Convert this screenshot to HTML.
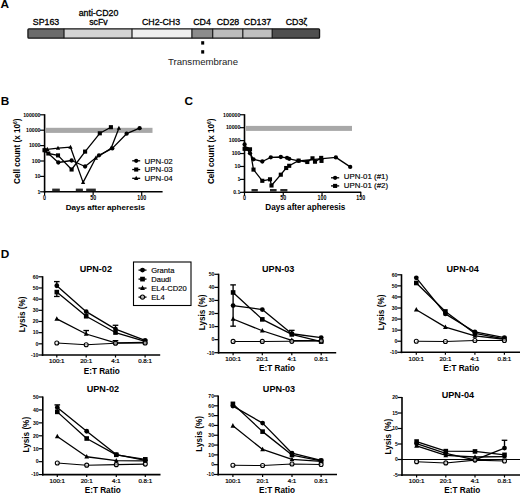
<!DOCTYPE html>
<html><head><meta charset="utf-8"><style>
html,body{margin:0;padding:0;background:#fff;}
svg{display:block;font-family:"Liberation Sans", sans-serif;}
</style></head><body>
<svg width="520" height="493" viewBox="0 0 520 493">
<text x="0.4" y="8.1" font-size="11.8" font-weight="bold" text-anchor="start" fill="#000" >A</text>
<rect x="27.95" y="28.85" width="36.05" height="9.3" fill="#6b6b6b"/>
<rect x="64" y="28.85" width="68.00" height="9.3" fill="#d3d3d3"/>
<rect x="132" y="28.85" width="59.90" height="9.3" fill="#efefef"/>
<rect x="191.9" y="28.85" width="20.80" height="9.3" fill="#8c8c8c"/>
<rect x="212.7" y="28.85" width="30.10" height="9.3" fill="#bcbcbc"/>
<rect x="242.8" y="28.85" width="29.40" height="9.3" fill="#bfbfbf"/>
<rect x="272.2" y="28.85" width="47.35" height="9.3" fill="#4f4f4f"/>
<line x1="64" y1="28.85" x2="64" y2="38.15" stroke="#151515" stroke-width="1.2"/>
<line x1="132" y1="28.85" x2="132" y2="38.15" stroke="#151515" stroke-width="1.2"/>
<line x1="191.9" y1="28.85" x2="191.9" y2="38.15" stroke="#151515" stroke-width="1.2"/>
<line x1="212.7" y1="28.85" x2="212.7" y2="38.15" stroke="#151515" stroke-width="1.2"/>
<line x1="242.8" y1="28.85" x2="242.8" y2="38.15" stroke="#151515" stroke-width="1.2"/>
<line x1="272.2" y1="28.85" x2="272.2" y2="38.15" stroke="#151515" stroke-width="1.2"/>
<rect x="27.95" y="28.85" width="291.6" height="9.3" rx="1" fill="none" stroke="#151515" stroke-width="1.3"/>
<text x="46" y="25.3" font-size="8.8" font-weight="normal" text-anchor="middle" fill="#000" stroke="#000" stroke-width="0.3">SP163</text>
<text x="98.5" y="16.0" font-size="8.8" font-weight="normal" text-anchor="middle" fill="#000" stroke="#000" stroke-width="0.3">anti-CD20</text>
<text x="98.5" y="25.3" font-size="8.8" font-weight="normal" text-anchor="middle" fill="#000" stroke="#000" stroke-width="0.3">scFv</text>
<text x="161" y="25.3" font-size="8.8" font-weight="normal" text-anchor="middle" fill="#000" stroke="#000" stroke-width="0.3">CH2-CH3</text>
<text x="202" y="25.3" font-size="8.8" font-weight="normal" text-anchor="middle" fill="#000" stroke="#000" stroke-width="0.3">CD4</text>
<text x="228" y="25.3" font-size="8.8" font-weight="normal" text-anchor="middle" fill="#000" stroke="#000" stroke-width="0.3">CD28</text>
<text x="257.5" y="25.3" font-size="8.8" font-weight="normal" text-anchor="middle" fill="#000" stroke="#000" stroke-width="0.3">CD137</text>
<text x="296.5" y="25.3" font-size="8.8" font-weight="normal" text-anchor="middle" fill="#000" stroke="#000" stroke-width="0.3">CD3&#950;</text>
<rect x="201.2" y="41.2" width="3" height="3.4" fill="#000"/>
<rect x="201.2" y="50.2" width="3" height="3.4" fill="#000"/>
<text x="203.0" y="65.4" font-size="9.6" font-weight="normal" text-anchor="middle" fill="#222" >Transmembrane</text>
<text x="0.8" y="105.4" font-size="11.8" font-weight="bold" text-anchor="start" fill="#000" >B</text>
<rect x="46" y="127.8" width="106.5" height="5.1" fill="#a8a8a8"/>
<line x1="44.6" y1="114.2" x2="44.6" y2="192.70000000000002" stroke="#000" stroke-width="1.6"/>
<line x1="43.800000000000004" y1="191.8" x2="162.6" y2="191.8" stroke="#000" stroke-width="1.6"/>
<line x1="40.1" y1="191.8" x2="44.6" y2="191.8" stroke="#000" stroke-width="1.2"/>
<text x="40.5" y="193.55" font-size="5.2" font-weight="bold" text-anchor="end" fill="#000" >1</text>
<line x1="40.1" y1="176.4" x2="44.6" y2="176.4" stroke="#000" stroke-width="1.2"/>
<text x="40.5" y="178.15" font-size="5.2" font-weight="bold" text-anchor="end" fill="#000" >10</text>
<line x1="40.1" y1="161.0" x2="44.6" y2="161.0" stroke="#000" stroke-width="1.2"/>
<text x="40.5" y="162.75" font-size="5.2" font-weight="bold" text-anchor="end" fill="#000" >100</text>
<line x1="40.1" y1="145.60000000000002" x2="44.6" y2="145.60000000000002" stroke="#000" stroke-width="1.2"/>
<text x="40.5" y="147.35000000000002" font-size="5.2" font-weight="bold" text-anchor="end" fill="#000" >1000</text>
<line x1="40.1" y1="130.20000000000002" x2="44.6" y2="130.20000000000002" stroke="#000" stroke-width="1.2"/>
<text x="40.5" y="131.95000000000002" font-size="5.2" font-weight="bold" text-anchor="end" fill="#000" >10000</text>
<line x1="40.1" y1="114.80000000000001" x2="44.6" y2="114.80000000000001" stroke="#000" stroke-width="1.2"/>
<text x="40.5" y="116.55000000000001" font-size="5.2" font-weight="bold" text-anchor="end" fill="#000" >100000</text>
<line x1="44.6" y1="191.8" x2="44.6" y2="195.3" stroke="#000" stroke-width="1.2"/>
<text transform="translate(44.60,200.30) scale(0.85,1)" font-size="6.3" font-weight="bold" text-anchor="middle">0</text>
<line x1="93.15" y1="191.8" x2="93.15" y2="195.3" stroke="#000" stroke-width="1.2"/>
<text transform="translate(93.15,200.30) scale(0.85,1)" font-size="6.3" font-weight="bold" text-anchor="middle">50</text>
<line x1="141.7" y1="191.8" x2="141.7" y2="195.3" stroke="#000" stroke-width="1.2"/>
<text transform="translate(141.70,200.30) scale(0.85,1)" font-size="6.3" font-weight="bold" text-anchor="middle">100</text>
<text x="105.3" y="210.3" font-size="8.1" font-weight="bold" text-anchor="middle" fill="#000" >Days after apheresis</text>
<text transform="translate(19.8,151.2) rotate(-90)" font-size="8.15" font-weight="bold" text-anchor="middle">Cell count (x 10<tspan dy="-3" font-size="5">6</tspan><tspan dy="3">)</tspan></text>
<rect x="52.2" y="188.6" width="7.599999999999994" height="2.6" fill="#2a2a2a"/>
<rect x="75.8" y="188.6" width="7.1000000000000085" height="2.6" fill="#2a2a2a"/>
<rect x="86.2" y="188.6" width="9.599999999999994" height="2.6" fill="#2a2a2a"/>
<polyline points="45.10,150.50 58.30,162.50 71.60,160.50 85.10,166.50 99.00,155.30 112.30,148.40 126.60,133.70 139.60,128.20" fill="none" stroke="#000" stroke-width="1.3" stroke-linejoin="round"/>
<circle cx="45.10" cy="150.50" r="2.15" fill="#000"/>
<circle cx="58.30" cy="162.50" r="2.15" fill="#000"/>
<circle cx="71.60" cy="160.50" r="2.15" fill="#000"/>
<circle cx="85.10" cy="166.50" r="2.15" fill="#000"/>
<circle cx="99.00" cy="155.30" r="2.15" fill="#000"/>
<circle cx="112.30" cy="148.40" r="2.15" fill="#000"/>
<circle cx="126.60" cy="133.70" r="2.15" fill="#000"/>
<circle cx="139.60" cy="128.20" r="2.15" fill="#000"/>
<polyline points="44.50,150.20 48.30,153.50 58.00,155.40 71.60,169.50 85.10,151.60 99.80,133.30 110.90,127.20" fill="none" stroke="#000" stroke-width="1.3" stroke-linejoin="round"/>
<rect x="42.45" y="148.15" width="4.10" height="4.10" fill="#000"/>
<rect x="46.25" y="151.45" width="4.10" height="4.10" fill="#000"/>
<rect x="55.95" y="153.35" width="4.10" height="4.10" fill="#000"/>
<rect x="69.55" y="167.45" width="4.10" height="4.10" fill="#000"/>
<rect x="83.05" y="149.55" width="4.10" height="4.10" fill="#000"/>
<rect x="97.75" y="131.25" width="4.10" height="4.10" fill="#000"/>
<rect x="108.85" y="125.15" width="4.10" height="4.10" fill="#000"/>
<polyline points="47.30,149.30 58.00,148.20 70.50,147.20 83.10,182.40 95.80,158.00 111.10,148.20 118.90,128.20" fill="none" stroke="#000" stroke-width="1.3" stroke-linejoin="round"/>
<polygon points="47.30,146.85 49.45,150.93 45.15,150.93" fill="#000"/>
<polygon points="58.00,145.75 60.15,149.83 55.85,149.83" fill="#000"/>
<polygon points="70.50,144.75 72.65,148.83 68.35,148.83" fill="#000"/>
<polygon points="83.10,179.95 85.25,184.03 80.95,184.03" fill="#000"/>
<polygon points="95.80,155.55 97.95,159.63 93.65,159.63" fill="#000"/>
<polygon points="111.10,145.75 113.25,149.83 108.95,149.83" fill="#000"/>
<polygon points="118.90,125.75 121.05,129.83 116.75,129.83" fill="#000"/>
<line x1="132.2" y1="160.8" x2="140.2" y2="160.8" stroke="#000" stroke-width="1.3"/>
<circle cx="136.20" cy="160.80" r="2.15" fill="#000"/>
<text x="144.6" y="163.60000000000002" font-size="7.9" font-weight="normal" text-anchor="start" fill="#000" stroke="#000" stroke-width="0.15">UPN-02</text>
<line x1="132.2" y1="169.55" x2="140.2" y2="169.55" stroke="#000" stroke-width="1.3"/>
<rect x="134.15" y="167.50" width="4.10" height="4.10" fill="#000"/>
<text x="144.6" y="172.35000000000002" font-size="7.9" font-weight="normal" text-anchor="start" fill="#000" stroke="#000" stroke-width="0.15">UPN-03</text>
<line x1="132.2" y1="178.3" x2="140.2" y2="178.3" stroke="#000" stroke-width="1.3"/>
<polygon points="136.20,175.85 138.35,179.93 134.05,179.93" fill="#000"/>
<text x="144.6" y="181.10000000000002" font-size="7.9" font-weight="normal" text-anchor="start" fill="#000" stroke="#000" stroke-width="0.15">UPN-04</text>
<text x="184.6" y="105.4" font-size="11.8" font-weight="bold" text-anchor="start" fill="#000" >C</text>
<rect x="246" y="125.9" width="106" height="5" fill="#a8a8a8"/>
<line x1="244.5" y1="114.2" x2="244.5" y2="193.1" stroke="#000" stroke-width="1.6"/>
<line x1="243.7" y1="192.2" x2="361.2" y2="192.2" stroke="#000" stroke-width="1.6"/>
<line x1="240.0" y1="192.33" x2="244.5" y2="192.33" stroke="#000" stroke-width="1.2"/>
<text x="240.4" y="194.08" font-size="5.2" font-weight="bold" text-anchor="end" fill="#000" >0.1</text>
<line x1="240.0" y1="179.4" x2="244.5" y2="179.4" stroke="#000" stroke-width="1.2"/>
<text x="240.4" y="181.15" font-size="5.2" font-weight="bold" text-anchor="end" fill="#000" >1</text>
<line x1="240.0" y1="166.47" x2="244.5" y2="166.47" stroke="#000" stroke-width="1.2"/>
<text x="240.4" y="168.22" font-size="5.2" font-weight="bold" text-anchor="end" fill="#000" >10</text>
<line x1="240.0" y1="153.54000000000002" x2="244.5" y2="153.54000000000002" stroke="#000" stroke-width="1.2"/>
<text x="240.4" y="155.29000000000002" font-size="5.2" font-weight="bold" text-anchor="end" fill="#000" >100</text>
<line x1="240.0" y1="140.61" x2="244.5" y2="140.61" stroke="#000" stroke-width="1.2"/>
<text x="240.4" y="142.36" font-size="5.2" font-weight="bold" text-anchor="end" fill="#000" >1000</text>
<line x1="240.0" y1="127.68" x2="244.5" y2="127.68" stroke="#000" stroke-width="1.2"/>
<text x="240.4" y="129.43" font-size="5.2" font-weight="bold" text-anchor="end" fill="#000" >10000</text>
<line x1="240.0" y1="114.75" x2="244.5" y2="114.75" stroke="#000" stroke-width="1.2"/>
<text x="240.4" y="116.5" font-size="5.2" font-weight="bold" text-anchor="end" fill="#000" >100000</text>
<line x1="244.5" y1="192.2" x2="244.5" y2="195.7" stroke="#000" stroke-width="1.2"/>
<text transform="translate(244.50,200.40) scale(0.85,1)" font-size="6.3" font-weight="bold" text-anchor="middle">0</text>
<line x1="283.265" y1="192.2" x2="283.265" y2="195.7" stroke="#000" stroke-width="1.2"/>
<text transform="translate(283.26,200.40) scale(0.85,1)" font-size="6.3" font-weight="bold" text-anchor="middle">50</text>
<line x1="322.03" y1="192.2" x2="322.03" y2="195.7" stroke="#000" stroke-width="1.2"/>
<text transform="translate(322.03,200.40) scale(0.85,1)" font-size="6.3" font-weight="bold" text-anchor="middle">100</text>
<line x1="360.795" y1="192.2" x2="360.795" y2="195.7" stroke="#000" stroke-width="1.2"/>
<text transform="translate(360.80,200.40) scale(0.85,1)" font-size="6.3" font-weight="bold" text-anchor="middle">150</text>
<text x="305.3" y="209.9" font-size="8.2" font-weight="bold" text-anchor="middle" fill="#000" >Days after apheresis</text>
<text transform="translate(213.5,151.3) rotate(-90)" font-size="8.15" font-weight="bold" text-anchor="middle">Cell count (x 10<tspan dy="-3" font-size="5">6</tspan><tspan dy="3">)</tspan></text>
<rect x="251.5" y="189.0" width="6.300000000000011" height="2.6" fill="#2a2a2a"/>
<rect x="270" y="189.0" width="6.600000000000023" height="2.6" fill="#2a2a2a"/>
<rect x="280.3" y="189.0" width="7.099999999999966" height="2.6" fill="#2a2a2a"/>
<polyline points="244.60,144.50 247.00,148.80 250.00,153.30 253.50,159.30 262.30,161.50 270.80,157.30 280.80,157.00 287.00,157.80 289.20,158.80 298.60,160.80 335.90,157.40 350.20,166.90" fill="none" stroke="#000" stroke-width="1.3" stroke-linejoin="round"/>
<circle cx="244.60" cy="144.50" r="2.15" fill="#000"/>
<circle cx="247.00" cy="148.80" r="2.15" fill="#000"/>
<circle cx="250.00" cy="153.30" r="2.15" fill="#000"/>
<circle cx="253.50" cy="159.30" r="2.15" fill="#000"/>
<circle cx="262.30" cy="161.50" r="2.15" fill="#000"/>
<circle cx="270.80" cy="157.30" r="2.15" fill="#000"/>
<circle cx="280.80" cy="157.00" r="2.15" fill="#000"/>
<circle cx="287.00" cy="157.80" r="2.15" fill="#000"/>
<circle cx="289.20" cy="158.80" r="2.15" fill="#000"/>
<circle cx="298.60" cy="160.80" r="2.15" fill="#000"/>
<circle cx="335.90" cy="157.40" r="2.15" fill="#000"/>
<circle cx="350.20" cy="166.90" r="2.15" fill="#000"/>
<polyline points="244.60,148.80 250.00,149.30 253.50,169.60 262.30,180.80 270.00,179.30 271.50,185.50 280.80,174.70 286.20,168.00 289.20,165.80 298.60,160.60 307.30,162.00 312.50,158.30 315.00,161.70 321.20,157.90 321.50,160.90" fill="none" stroke="#000" stroke-width="1.3" stroke-linejoin="round"/>
<rect x="242.55" y="146.75" width="4.10" height="4.10" fill="#000"/>
<rect x="247.95" y="147.25" width="4.10" height="4.10" fill="#000"/>
<rect x="251.45" y="167.55" width="4.10" height="4.10" fill="#000"/>
<rect x="260.25" y="178.75" width="4.10" height="4.10" fill="#000"/>
<rect x="267.95" y="177.25" width="4.10" height="4.10" fill="#000"/>
<rect x="269.45" y="183.45" width="4.10" height="4.10" fill="#000"/>
<rect x="278.75" y="172.65" width="4.10" height="4.10" fill="#000"/>
<rect x="284.15" y="165.95" width="4.10" height="4.10" fill="#000"/>
<rect x="287.15" y="163.75" width="4.10" height="4.10" fill="#000"/>
<rect x="296.55" y="158.55" width="4.10" height="4.10" fill="#000"/>
<rect x="305.25" y="159.95" width="4.10" height="4.10" fill="#000"/>
<rect x="310.45" y="156.25" width="4.10" height="4.10" fill="#000"/>
<rect x="312.95" y="159.65" width="4.10" height="4.10" fill="#000"/>
<rect x="319.15" y="155.85" width="4.10" height="4.10" fill="#000"/>
<rect x="319.45" y="158.85" width="4.10" height="4.10" fill="#000"/>
<line x1="331" y1="177.8" x2="339.2" y2="177.8" stroke="#000" stroke-width="1.3"/>
<circle cx="335.10" cy="177.80" r="2.15" fill="#000"/>
<text x="343.8" y="179.4" font-size="7.9" font-weight="normal" text-anchor="start" fill="#000" stroke="#000" stroke-width="0.15">UPN-01 (#1)</text>
<line x1="331" y1="185.9" x2="339.2" y2="185.9" stroke="#000" stroke-width="1.3"/>
<rect x="333.05" y="183.85" width="4.10" height="4.10" fill="#000"/>
<text x="343.8" y="187.5" font-size="7.9" font-weight="normal" text-anchor="start" fill="#000" stroke="#000" stroke-width="0.15">UPN-01 (#2)</text>
<text x="0.8" y="257.6" font-size="11.8" font-weight="bold" text-anchor="start" fill="#000" >D</text>
<line x1="42.6" y1="276.2" x2="42.6" y2="355.9" stroke="#000" stroke-width="1.6"/>
<line x1="41.800000000000004" y1="355.0" x2="160.2" y2="355.0" stroke="#000" stroke-width="1.6"/>
<line x1="38.4" y1="355.0" x2="42.6" y2="355.0" stroke="#000" stroke-width="1.2"/>
<text x="38.4" y="356.8" font-size="5.1" font-weight="bold" text-anchor="end" fill="#000" >-10</text>
<line x1="38.4" y1="343.8285714285714" x2="42.6" y2="343.8285714285714" stroke="#000" stroke-width="1.2"/>
<text x="38.4" y="345.62857142857143" font-size="5.1" font-weight="bold" text-anchor="end" fill="#000" >0</text>
<line x1="38.4" y1="332.65714285714284" x2="42.6" y2="332.65714285714284" stroke="#000" stroke-width="1.2"/>
<text x="38.4" y="334.45714285714286" font-size="5.1" font-weight="bold" text-anchor="end" fill="#000" >10</text>
<line x1="38.4" y1="321.48571428571427" x2="42.6" y2="321.48571428571427" stroke="#000" stroke-width="1.2"/>
<text x="38.4" y="323.2857142857143" font-size="5.1" font-weight="bold" text-anchor="end" fill="#000" >20</text>
<line x1="38.4" y1="310.31428571428575" x2="42.6" y2="310.31428571428575" stroke="#000" stroke-width="1.2"/>
<text x="38.4" y="312.11428571428576" font-size="5.1" font-weight="bold" text-anchor="end" fill="#000" >30</text>
<line x1="38.4" y1="299.14285714285717" x2="42.6" y2="299.14285714285717" stroke="#000" stroke-width="1.2"/>
<text x="38.4" y="300.9428571428572" font-size="5.1" font-weight="bold" text-anchor="end" fill="#000" >40</text>
<line x1="38.4" y1="287.9714285714286" x2="42.6" y2="287.9714285714286" stroke="#000" stroke-width="1.2"/>
<text x="38.4" y="289.7714285714286" font-size="5.1" font-weight="bold" text-anchor="end" fill="#000" >50</text>
<line x1="38.4" y1="276.8" x2="42.6" y2="276.8" stroke="#000" stroke-width="1.2"/>
<text x="38.4" y="278.6" font-size="5.1" font-weight="bold" text-anchor="end" fill="#000" >60</text>
<line x1="56.8" y1="355.0" x2="56.8" y2="357.5" stroke="#000" stroke-width="1.2"/>
<text x="56.8" y="363.2" font-size="6.2" text-anchor="middle" stroke="#000" stroke-width="0.22">100:1</text>
<line x1="86.2" y1="355.0" x2="86.2" y2="357.5" stroke="#000" stroke-width="1.2"/>
<text x="86.2" y="363.2" font-size="6.2" text-anchor="middle" stroke="#000" stroke-width="0.22">20:1</text>
<line x1="115.5" y1="355.0" x2="115.5" y2="357.5" stroke="#000" stroke-width="1.2"/>
<text x="115.5" y="363.2" font-size="6.2" text-anchor="middle" stroke="#000" stroke-width="0.22">4:1</text>
<line x1="145.1" y1="355.0" x2="145.1" y2="357.5" stroke="#000" stroke-width="1.2"/>
<text x="145.1" y="363.2" font-size="6.2" text-anchor="middle" stroke="#000" stroke-width="0.22">0.8:1</text>
<text x="95.8" y="272.2" font-size="9.1" font-weight="bold" text-anchor="middle" fill="#000" >UPN-02</text>
<text x="101.7" y="373.6" font-size="8.2" font-weight="bold" text-anchor="middle" fill="#000" >E:T Ratio</text>
<text transform="translate(24.9,314.35) rotate(-90)" font-size="8.2" font-weight="bold" text-anchor="middle">Lysis (%)</text>
<line x1="56.8" y1="285.7371428571429" x2="56.8" y2="281.6037142857143" stroke="#000" stroke-width="1.35"/>
<line x1="54.0" y1="281.6037142857143" x2="59.599999999999994" y2="281.6037142857143" stroke="#000" stroke-width="1.35"/>
<line x1="115.5" y1="329.0822857142857" x2="115.5" y2="325.284" stroke="#000" stroke-width="1.35"/>
<line x1="112.7" y1="325.284" x2="118.3" y2="325.284" stroke="#000" stroke-width="1.35"/>
<polyline points="56.80,285.74 86.20,311.65 115.50,329.08 145.10,340.48" fill="none" stroke="#000" stroke-width="1.3" stroke-linejoin="round"/>
<circle cx="56.80" cy="285.74" r="2.40" fill="#000"/>
<circle cx="86.20" cy="311.65" r="2.40" fill="#000"/>
<circle cx="115.50" cy="329.08" r="2.40" fill="#000"/>
<circle cx="145.10" cy="340.48" r="2.40" fill="#000"/>
<line x1="56.8" y1="296.46171428571427" x2="56.8" y2="292.10485714285716" stroke="#000" stroke-width="1.35"/>
<line x1="54.0" y1="296.46171428571427" x2="59.599999999999994" y2="296.46171428571427" stroke="#000" stroke-width="1.35"/>
<polyline points="56.80,292.10 86.20,316.24 115.50,332.55 145.10,341.26" fill="none" stroke="#000" stroke-width="1.3" stroke-linejoin="round"/>
<rect x="54.50" y="289.80" width="4.60" height="4.60" fill="#000"/>
<rect x="83.90" y="313.94" width="4.60" height="4.60" fill="#000"/>
<rect x="113.20" y="330.25" width="4.60" height="4.60" fill="#000"/>
<rect x="142.80" y="338.96" width="4.60" height="4.60" fill="#000"/>
<line x1="86.2" y1="333.99771428571427" x2="86.2" y2="330.53457142857144" stroke="#000" stroke-width="1.35"/>
<line x1="83.4" y1="330.53457142857144" x2="89.0" y2="330.53457142857144" stroke="#000" stroke-width="1.35"/>
<line x1="115.5" y1="342.93485714285714" x2="115.5" y2="340.70057142857144" stroke="#000" stroke-width="1.35"/>
<line x1="112.7" y1="340.70057142857144" x2="118.3" y2="340.70057142857144" stroke="#000" stroke-width="1.35"/>
<polyline points="56.80,318.92 86.20,334.00 115.50,342.93 145.10,342.38" fill="none" stroke="#000" stroke-width="1.3" stroke-linejoin="round"/>
<polygon points="56.80,316.18 59.20,320.74 54.40,320.74" fill="#000"/>
<polygon points="86.20,331.26 88.60,335.82 83.80,335.82" fill="#000"/>
<polygon points="115.50,340.20 117.90,344.76 113.10,344.76" fill="#000"/>
<polygon points="145.10,339.64 147.50,344.20 142.70,344.20" fill="#000"/>
<polyline points="56.80,342.93 86.20,344.72 115.50,343.27 145.10,343.05" fill="none" stroke="#000" stroke-width="1.05" stroke-linejoin="round"/>
<circle cx="56.80" cy="342.93" r="2.00" fill="#fff" fill-opacity="0.6" stroke="#000" stroke-width="1.1"/>
<circle cx="86.20" cy="344.72" r="2.00" fill="#fff" fill-opacity="0.6" stroke="#000" stroke-width="1.1"/>
<circle cx="115.50" cy="343.27" r="2.00" fill="#fff" fill-opacity="0.6" stroke="#000" stroke-width="1.1"/>
<circle cx="145.10" cy="343.05" r="2.00" fill="#fff" fill-opacity="0.6" stroke="#000" stroke-width="1.1"/>
<rect x="133.5" y="262" width="57.5" height="43.5" fill="#fff" stroke="#000" stroke-width="1.1"/>
<line x1="138.5" y1="270.1" x2="146.5" y2="270.1" stroke="#000" stroke-width="1.3"/>
<circle cx="142.50" cy="270.10" r="2.45" fill="#000"/>
<text x="151.2" y="272.90000000000003" font-size="7.6" font-weight="normal" text-anchor="start" fill="#000" stroke="#000" stroke-width="0.15">Granta</text>
<line x1="138.5" y1="279.1" x2="146.5" y2="279.1" stroke="#000" stroke-width="1.3"/>
<rect x="140.15" y="276.75" width="4.70" height="4.70" fill="#000"/>
<text x="151.2" y="281.90000000000003" font-size="7.6" font-weight="normal" text-anchor="start" fill="#000" stroke="#000" stroke-width="0.15">Daudi</text>
<line x1="138.5" y1="288.1" x2="146.5" y2="288.1" stroke="#000" stroke-width="1.3"/>
<polygon points="142.50,285.31 144.95,289.96 140.05,289.96" fill="#000"/>
<text x="151.2" y="290.90000000000003" font-size="7.6" font-weight="normal" text-anchor="start" fill="#000" stroke="#000" stroke-width="0.15">EL4-CD20</text>
<line x1="138.5" y1="297.1" x2="146.5" y2="297.1" stroke="#000" stroke-width="1.3"/>
<circle cx="142.50" cy="297.10" r="2.05" fill="#fff" fill-opacity="0.6" stroke="#000" stroke-width="1.1"/>
<text x="151.2" y="299.90000000000003" font-size="7.6" font-weight="normal" text-anchor="start" fill="#000" stroke="#000" stroke-width="0.15">EL4</text>
<line x1="218.6" y1="273.7" x2="218.6" y2="353.59999999999997" stroke="#000" stroke-width="1.6"/>
<line x1="217.79999999999998" y1="352.7" x2="336.2" y2="352.7" stroke="#000" stroke-width="1.6"/>
<line x1="214.4" y1="352.7" x2="218.6" y2="352.7" stroke="#000" stroke-width="1.2"/>
<text x="214.4" y="354.5" font-size="5.1" font-weight="bold" text-anchor="end" fill="#000" >-10</text>
<line x1="214.4" y1="339.6333333333333" x2="218.6" y2="339.6333333333333" stroke="#000" stroke-width="1.2"/>
<text x="214.4" y="341.43333333333334" font-size="5.1" font-weight="bold" text-anchor="end" fill="#000" >0</text>
<line x1="214.4" y1="326.56666666666666" x2="218.6" y2="326.56666666666666" stroke="#000" stroke-width="1.2"/>
<text x="214.4" y="328.3666666666667" font-size="5.1" font-weight="bold" text-anchor="end" fill="#000" >10</text>
<line x1="214.4" y1="313.5" x2="218.6" y2="313.5" stroke="#000" stroke-width="1.2"/>
<text x="214.4" y="315.3" font-size="5.1" font-weight="bold" text-anchor="end" fill="#000" >20</text>
<line x1="214.4" y1="300.43333333333334" x2="218.6" y2="300.43333333333334" stroke="#000" stroke-width="1.2"/>
<text x="214.4" y="302.23333333333335" font-size="5.1" font-weight="bold" text-anchor="end" fill="#000" >30</text>
<line x1="214.4" y1="287.3666666666667" x2="218.6" y2="287.3666666666667" stroke="#000" stroke-width="1.2"/>
<text x="214.4" y="289.1666666666667" font-size="5.1" font-weight="bold" text-anchor="end" fill="#000" >40</text>
<line x1="214.4" y1="274.3" x2="218.6" y2="274.3" stroke="#000" stroke-width="1.2"/>
<text x="214.4" y="276.1" font-size="5.1" font-weight="bold" text-anchor="end" fill="#000" >50</text>
<line x1="233.1" y1="352.7" x2="233.1" y2="355.2" stroke="#000" stroke-width="1.2"/>
<text x="233.1" y="360.9" font-size="6.2" text-anchor="middle" stroke="#000" stroke-width="0.22">100:1</text>
<line x1="262.3" y1="352.7" x2="262.3" y2="355.2" stroke="#000" stroke-width="1.2"/>
<text x="262.3" y="360.9" font-size="6.2" text-anchor="middle" stroke="#000" stroke-width="0.22">20:1</text>
<line x1="291.8" y1="352.7" x2="291.8" y2="355.2" stroke="#000" stroke-width="1.2"/>
<text x="291.8" y="360.9" font-size="6.2" text-anchor="middle" stroke="#000" stroke-width="0.22">4:1</text>
<line x1="321.2" y1="352.7" x2="321.2" y2="355.2" stroke="#000" stroke-width="1.2"/>
<text x="321.2" y="360.9" font-size="6.2" text-anchor="middle" stroke="#000" stroke-width="0.22">0.8:1</text>
<text x="278.2" y="271.9" font-size="9.1" font-weight="bold" text-anchor="middle" fill="#000" >UPN-03</text>
<text x="277" y="371.1" font-size="8.2" font-weight="bold" text-anchor="middle" fill="#000" >E:T Ratio</text>
<text transform="translate(205.0,312.4) rotate(-90)" font-size="8.2" font-weight="bold" text-anchor="middle">Lysis (%)</text>
<polyline points="233.10,292.46 262.30,319.38 291.80,334.41 321.20,341.59" fill="none" stroke="#000" stroke-width="1.3" stroke-linejoin="round"/>
<rect x="230.80" y="290.16" width="4.60" height="4.60" fill="#000"/>
<rect x="260.00" y="317.08" width="4.60" height="4.60" fill="#000"/>
<rect x="289.50" y="332.11" width="4.60" height="4.60" fill="#000"/>
<rect x="318.90" y="339.29" width="4.60" height="4.60" fill="#000"/>
<line x1="233.1" y1="326.17466666666667" x2="233.1" y2="284.884" stroke="#000" stroke-width="1.35"/>
<line x1="230.29999999999998" y1="326.17466666666667" x2="235.9" y2="326.17466666666667" stroke="#000" stroke-width="1.35"/>
<line x1="230.29999999999998" y1="284.884" x2="235.9" y2="284.884" stroke="#000" stroke-width="1.35"/>
<line x1="291.8" y1="333.75333333333333" x2="291.8" y2="330.356" stroke="#000" stroke-width="1.35"/>
<line x1="289.0" y1="330.356" x2="294.6" y2="330.356" stroke="#000" stroke-width="1.35"/>
<polyline points="233.10,305.53 262.30,309.58 291.80,333.75 321.20,337.54" fill="none" stroke="#000" stroke-width="1.3" stroke-linejoin="round"/>
<circle cx="233.10" cy="305.53" r="2.40" fill="#000"/>
<circle cx="262.30" cy="309.58" r="2.40" fill="#000"/>
<circle cx="291.80" cy="333.75" r="2.40" fill="#000"/>
<circle cx="321.20" cy="337.54" r="2.40" fill="#000"/>
<polyline points="233.10,318.99 262.30,330.75 291.80,340.29 321.20,340.55" fill="none" stroke="#000" stroke-width="1.3" stroke-linejoin="round"/>
<polygon points="233.10,316.25 235.50,320.81 230.70,320.81" fill="#000"/>
<polygon points="262.30,328.01 264.70,332.57 259.90,332.57" fill="#000"/>
<polygon points="291.80,337.55 294.20,342.11 289.40,342.11" fill="#000"/>
<polygon points="321.20,337.81 323.60,342.37 318.80,342.37" fill="#000"/>
<polyline points="233.10,341.40 262.30,341.40 291.80,341.33 321.20,340.94" fill="none" stroke="#000" stroke-width="1.05" stroke-linejoin="round"/>
<circle cx="233.10" cy="341.40" r="2.00" fill="#fff" fill-opacity="0.6" stroke="#000" stroke-width="1.1"/>
<circle cx="262.30" cy="341.40" r="2.00" fill="#fff" fill-opacity="0.6" stroke="#000" stroke-width="1.1"/>
<circle cx="291.80" cy="341.33" r="2.00" fill="#fff" fill-opacity="0.6" stroke="#000" stroke-width="1.1"/>
<circle cx="321.20" cy="340.94" r="2.00" fill="#fff" fill-opacity="0.6" stroke="#000" stroke-width="1.1"/>
<line x1="401.5" y1="274.2" x2="401.5" y2="353.2" stroke="#000" stroke-width="1.6"/>
<line x1="400.7" y1="352.3" x2="520" y2="352.3" stroke="#000" stroke-width="1.6"/>
<line x1="397.3" y1="352.3" x2="401.5" y2="352.3" stroke="#000" stroke-width="1.2"/>
<text x="397.3" y="354.1" font-size="5.1" font-weight="bold" text-anchor="end" fill="#000" >-10</text>
<line x1="397.3" y1="341.22857142857146" x2="401.5" y2="341.22857142857146" stroke="#000" stroke-width="1.2"/>
<text x="397.3" y="343.02857142857147" font-size="5.1" font-weight="bold" text-anchor="end" fill="#000" >0</text>
<line x1="397.3" y1="330.15714285714284" x2="401.5" y2="330.15714285714284" stroke="#000" stroke-width="1.2"/>
<text x="397.3" y="331.95714285714286" font-size="5.1" font-weight="bold" text-anchor="end" fill="#000" >10</text>
<line x1="397.3" y1="319.0857142857143" x2="401.5" y2="319.0857142857143" stroke="#000" stroke-width="1.2"/>
<text x="397.3" y="320.8857142857143" font-size="5.1" font-weight="bold" text-anchor="end" fill="#000" >20</text>
<line x1="397.3" y1="308.01428571428573" x2="401.5" y2="308.01428571428573" stroke="#000" stroke-width="1.2"/>
<text x="397.3" y="309.81428571428575" font-size="5.1" font-weight="bold" text-anchor="end" fill="#000" >30</text>
<line x1="397.3" y1="296.9428571428572" x2="401.5" y2="296.9428571428572" stroke="#000" stroke-width="1.2"/>
<text x="397.3" y="298.7428571428572" font-size="5.1" font-weight="bold" text-anchor="end" fill="#000" >40</text>
<line x1="397.3" y1="285.87142857142857" x2="401.5" y2="285.87142857142857" stroke="#000" stroke-width="1.2"/>
<text x="397.3" y="287.6714285714286" font-size="5.1" font-weight="bold" text-anchor="end" fill="#000" >50</text>
<line x1="397.3" y1="274.8" x2="401.5" y2="274.8" stroke="#000" stroke-width="1.2"/>
<text x="397.3" y="276.6" font-size="5.1" font-weight="bold" text-anchor="end" fill="#000" >60</text>
<line x1="416.3" y1="352.3" x2="416.3" y2="354.8" stroke="#000" stroke-width="1.2"/>
<text x="416.3" y="360.5" font-size="6.2" text-anchor="middle" stroke="#000" stroke-width="0.22">100:1</text>
<line x1="445.4" y1="352.3" x2="445.4" y2="354.8" stroke="#000" stroke-width="1.2"/>
<text x="445.4" y="360.5" font-size="6.2" text-anchor="middle" stroke="#000" stroke-width="0.22">20:1</text>
<line x1="474.9" y1="352.3" x2="474.9" y2="354.8" stroke="#000" stroke-width="1.2"/>
<text x="474.9" y="360.5" font-size="6.2" text-anchor="middle" stroke="#000" stroke-width="0.22">4:1</text>
<line x1="504.4" y1="352.3" x2="504.4" y2="354.8" stroke="#000" stroke-width="1.2"/>
<text x="504.4" y="360.5" font-size="6.2" text-anchor="middle" stroke="#000" stroke-width="0.22">0.8:1</text>
<text x="462.7" y="271.6" font-size="9.1" font-weight="bold" text-anchor="middle" fill="#000" >UPN-04</text>
<text x="461.2" y="371.3" font-size="8.2" font-weight="bold" text-anchor="middle" fill="#000" >E:T Ratio</text>
<text transform="translate(384.4,312.4) rotate(-90)" font-size="8.2" font-weight="bold" text-anchor="middle">Lysis (%)</text>
<polyline points="416.30,277.79 445.40,313.88 474.90,331.93 504.40,337.69" fill="none" stroke="#000" stroke-width="1.3" stroke-linejoin="round"/>
<circle cx="416.30" cy="277.79" r="2.40" fill="#000"/>
<circle cx="445.40" cy="313.88" r="2.40" fill="#000"/>
<circle cx="474.90" cy="331.93" r="2.40" fill="#000"/>
<circle cx="504.40" cy="337.69" r="2.40" fill="#000"/>
<polyline points="416.30,282.99 445.40,311.45 474.90,333.48 504.40,338.79" fill="none" stroke="#000" stroke-width="1.3" stroke-linejoin="round"/>
<rect x="414.00" y="280.69" width="4.60" height="4.60" fill="#000"/>
<rect x="443.10" y="309.15" width="4.60" height="4.60" fill="#000"/>
<rect x="472.60" y="331.18" width="4.60" height="4.60" fill="#000"/>
<rect x="502.10" y="336.49" width="4.60" height="4.60" fill="#000"/>
<polyline points="416.30,309.79 445.40,327.17 474.90,335.91 504.40,339.24" fill="none" stroke="#000" stroke-width="1.3" stroke-linejoin="round"/>
<polygon points="416.30,307.05 418.70,311.61 413.90,311.61" fill="#000"/>
<polygon points="445.40,324.43 447.80,328.99 443.00,328.99" fill="#000"/>
<polygon points="474.90,333.18 477.30,337.74 472.50,337.74" fill="#000"/>
<polygon points="504.40,336.50 506.80,341.06 502.00,341.06" fill="#000"/>
<polyline points="416.30,341.23 445.40,341.56 474.90,340.45 504.40,340.45" fill="none" stroke="#000" stroke-width="1.05" stroke-linejoin="round"/>
<circle cx="416.30" cy="341.23" r="2.00" fill="#fff" fill-opacity="0.6" stroke="#000" stroke-width="1.1"/>
<circle cx="445.40" cy="341.56" r="2.00" fill="#fff" fill-opacity="0.6" stroke="#000" stroke-width="1.1"/>
<circle cx="474.90" cy="340.45" r="2.00" fill="#fff" fill-opacity="0.6" stroke="#000" stroke-width="1.1"/>
<circle cx="504.40" cy="340.45" r="2.00" fill="#fff" fill-opacity="0.6" stroke="#000" stroke-width="1.1"/>
<line x1="42.8" y1="396.4" x2="42.8" y2="475.5" stroke="#000" stroke-width="1.6"/>
<line x1="42.0" y1="474.6" x2="160.5" y2="474.6" stroke="#000" stroke-width="1.6"/>
<line x1="38.599999999999994" y1="474.6" x2="42.8" y2="474.6" stroke="#000" stroke-width="1.2"/>
<text x="38.599999999999994" y="476.40000000000003" font-size="5.1" font-weight="bold" text-anchor="end" fill="#000" >-10</text>
<line x1="38.599999999999994" y1="461.6666666666667" x2="42.8" y2="461.6666666666667" stroke="#000" stroke-width="1.2"/>
<text x="38.599999999999994" y="463.4666666666667" font-size="5.1" font-weight="bold" text-anchor="end" fill="#000" >0</text>
<line x1="38.599999999999994" y1="448.73333333333335" x2="42.8" y2="448.73333333333335" stroke="#000" stroke-width="1.2"/>
<text x="38.599999999999994" y="450.53333333333336" font-size="5.1" font-weight="bold" text-anchor="end" fill="#000" >10</text>
<line x1="38.599999999999994" y1="435.8" x2="42.8" y2="435.8" stroke="#000" stroke-width="1.2"/>
<text x="38.599999999999994" y="437.6" font-size="5.1" font-weight="bold" text-anchor="end" fill="#000" >20</text>
<line x1="38.599999999999994" y1="422.8666666666667" x2="42.8" y2="422.8666666666667" stroke="#000" stroke-width="1.2"/>
<text x="38.599999999999994" y="424.6666666666667" font-size="5.1" font-weight="bold" text-anchor="end" fill="#000" >30</text>
<line x1="38.599999999999994" y1="409.93333333333334" x2="42.8" y2="409.93333333333334" stroke="#000" stroke-width="1.2"/>
<text x="38.599999999999994" y="411.73333333333335" font-size="5.1" font-weight="bold" text-anchor="end" fill="#000" >40</text>
<line x1="38.599999999999994" y1="397.0" x2="42.8" y2="397.0" stroke="#000" stroke-width="1.2"/>
<text x="38.599999999999994" y="398.8" font-size="5.1" font-weight="bold" text-anchor="end" fill="#000" >50</text>
<line x1="57.3" y1="474.6" x2="57.3" y2="477.1" stroke="#000" stroke-width="1.2"/>
<text x="57.3" y="482.8" font-size="6.2" text-anchor="middle" stroke="#000" stroke-width="0.22">100:1</text>
<line x1="86.7" y1="474.6" x2="86.7" y2="477.1" stroke="#000" stroke-width="1.2"/>
<text x="86.7" y="482.8" font-size="6.2" text-anchor="middle" stroke="#000" stroke-width="0.22">20:1</text>
<line x1="116.3" y1="474.6" x2="116.3" y2="477.1" stroke="#000" stroke-width="1.2"/>
<text x="116.3" y="482.8" font-size="6.2" text-anchor="middle" stroke="#000" stroke-width="0.22">4:1</text>
<line x1="145.3" y1="474.6" x2="145.3" y2="477.1" stroke="#000" stroke-width="1.2"/>
<text x="145.3" y="482.8" font-size="6.2" text-anchor="middle" stroke="#000" stroke-width="0.22">0.8:1</text>
<text x="102.9" y="392.2" font-size="9.1" font-weight="bold" text-anchor="middle" fill="#000" >UPN-02</text>
<text x="102.7" y="493.2" font-size="8.2" font-weight="bold" text-anchor="middle" fill="#000" >E:T Ratio</text>
<text transform="translate(28.8,434.7) rotate(-90)" font-size="8.2" font-weight="bold" text-anchor="middle">Lysis (%)</text>
<line x1="57.3" y1="407.476" x2="57.3" y2="404.88933333333335" stroke="#000" stroke-width="1.35"/>
<line x1="54.5" y1="404.88933333333335" x2="60.099999999999994" y2="404.88933333333335" stroke="#000" stroke-width="1.35"/>
<polyline points="57.30,407.48 86.70,431.27 116.30,454.55 145.30,460.37" fill="none" stroke="#000" stroke-width="1.3" stroke-linejoin="round"/>
<circle cx="57.30" cy="407.48" r="2.40" fill="#000"/>
<circle cx="86.70" cy="431.27" r="2.40" fill="#000"/>
<circle cx="116.30" cy="454.55" r="2.40" fill="#000"/>
<circle cx="145.30" cy="460.37" r="2.40" fill="#000"/>
<polyline points="57.30,411.87 86.70,438.52 116.30,454.81 145.30,459.34" fill="none" stroke="#000" stroke-width="1.3" stroke-linejoin="round"/>
<rect x="55.00" y="409.57" width="4.60" height="4.60" fill="#000"/>
<rect x="84.40" y="436.22" width="4.60" height="4.60" fill="#000"/>
<rect x="114.00" y="452.51" width="4.60" height="4.60" fill="#000"/>
<rect x="143.00" y="457.04" width="4.60" height="4.60" fill="#000"/>
<polyline points="57.30,436.45 86.70,456.75 116.30,460.63 145.30,460.89" fill="none" stroke="#000" stroke-width="1.3" stroke-linejoin="round"/>
<polygon points="57.30,433.71 59.70,438.27 54.90,438.27" fill="#000"/>
<polygon points="86.70,454.02 89.10,458.58 84.30,458.58" fill="#000"/>
<polygon points="116.30,457.90 118.70,462.46 113.90,462.46" fill="#000"/>
<polygon points="145.30,458.15 147.70,462.71 142.90,462.71" fill="#000"/>
<polyline points="57.30,462.96 86.70,465.16 116.30,464.64 145.30,464.12" fill="none" stroke="#000" stroke-width="1.05" stroke-linejoin="round"/>
<circle cx="57.30" cy="462.96" r="2.00" fill="#fff" fill-opacity="0.6" stroke="#000" stroke-width="1.1"/>
<circle cx="86.70" cy="465.16" r="2.00" fill="#fff" fill-opacity="0.6" stroke="#000" stroke-width="1.1"/>
<circle cx="116.30" cy="464.64" r="2.00" fill="#fff" fill-opacity="0.6" stroke="#000" stroke-width="1.1"/>
<circle cx="145.30" cy="464.12" r="2.00" fill="#fff" fill-opacity="0.6" stroke="#000" stroke-width="1.1"/>
<line x1="218.2" y1="395.4" x2="218.2" y2="475.4" stroke="#000" stroke-width="1.6"/>
<line x1="217.39999999999998" y1="474.5" x2="337" y2="474.5" stroke="#000" stroke-width="1.6"/>
<line x1="214.0" y1="474.5" x2="218.2" y2="474.5" stroke="#000" stroke-width="1.2"/>
<text x="214.0" y="476.3" font-size="5.1" font-weight="bold" text-anchor="end" fill="#000" >-10</text>
<line x1="214.0" y1="464.6875" x2="218.2" y2="464.6875" stroke="#000" stroke-width="1.2"/>
<text x="214.0" y="466.4875" font-size="5.1" font-weight="bold" text-anchor="end" fill="#000" >0</text>
<line x1="214.0" y1="454.875" x2="218.2" y2="454.875" stroke="#000" stroke-width="1.2"/>
<text x="214.0" y="456.675" font-size="5.1" font-weight="bold" text-anchor="end" fill="#000" >10</text>
<line x1="214.0" y1="445.0625" x2="218.2" y2="445.0625" stroke="#000" stroke-width="1.2"/>
<text x="214.0" y="446.8625" font-size="5.1" font-weight="bold" text-anchor="end" fill="#000" >20</text>
<line x1="214.0" y1="435.25" x2="218.2" y2="435.25" stroke="#000" stroke-width="1.2"/>
<text x="214.0" y="437.05" font-size="5.1" font-weight="bold" text-anchor="end" fill="#000" >30</text>
<line x1="214.0" y1="425.4375" x2="218.2" y2="425.4375" stroke="#000" stroke-width="1.2"/>
<text x="214.0" y="427.2375" font-size="5.1" font-weight="bold" text-anchor="end" fill="#000" >40</text>
<line x1="214.0" y1="415.625" x2="218.2" y2="415.625" stroke="#000" stroke-width="1.2"/>
<text x="214.0" y="417.425" font-size="5.1" font-weight="bold" text-anchor="end" fill="#000" >50</text>
<line x1="214.0" y1="405.8125" x2="218.2" y2="405.8125" stroke="#000" stroke-width="1.2"/>
<text x="214.0" y="407.6125" font-size="5.1" font-weight="bold" text-anchor="end" fill="#000" >60</text>
<line x1="214.0" y1="396.0" x2="218.2" y2="396.0" stroke="#000" stroke-width="1.2"/>
<text x="214.0" y="397.8" font-size="5.1" font-weight="bold" text-anchor="end" fill="#000" >70</text>
<line x1="232.9" y1="474.5" x2="232.9" y2="477.0" stroke="#000" stroke-width="1.2"/>
<text x="232.9" y="482.7" font-size="6.2" text-anchor="middle" stroke="#000" stroke-width="0.22">100:1</text>
<line x1="262.6" y1="474.5" x2="262.6" y2="477.0" stroke="#000" stroke-width="1.2"/>
<text x="262.6" y="482.7" font-size="6.2" text-anchor="middle" stroke="#000" stroke-width="0.22">20:1</text>
<line x1="292" y1="474.5" x2="292" y2="477.0" stroke="#000" stroke-width="1.2"/>
<text x="292" y="482.7" font-size="6.2" text-anchor="middle" stroke="#000" stroke-width="0.22">4:1</text>
<line x1="321.1" y1="474.5" x2="321.1" y2="477.0" stroke="#000" stroke-width="1.2"/>
<text x="321.1" y="482.7" font-size="6.2" text-anchor="middle" stroke="#000" stroke-width="0.22">0.8:1</text>
<text x="279.0" y="391.9" font-size="9.1" font-weight="bold" text-anchor="middle" fill="#000" >UPN-03</text>
<text x="277" y="493.2" font-size="8.2" font-weight="bold" text-anchor="middle" fill="#000" >E:T Ratio</text>
<text transform="translate(202.1,433.85) rotate(-90)" font-size="8.2" font-weight="bold" text-anchor="middle">Lysis (%)</text>
<polyline points="232.90,403.85 262.60,431.62 292.00,455.07 321.10,460.96" fill="none" stroke="#000" stroke-width="1.3" stroke-linejoin="round"/>
<rect x="230.60" y="401.55" width="4.60" height="4.60" fill="#000"/>
<rect x="260.30" y="429.32" width="4.60" height="4.60" fill="#000"/>
<rect x="289.70" y="452.77" width="4.60" height="4.60" fill="#000"/>
<rect x="318.80" y="458.66" width="4.60" height="4.60" fill="#000"/>
<polyline points="232.90,406.11 262.60,423.08 292.00,453.21 321.10,460.47" fill="none" stroke="#000" stroke-width="1.3" stroke-linejoin="round"/>
<circle cx="232.90" cy="406.11" r="2.40" fill="#000"/>
<circle cx="262.60" cy="423.08" r="2.40" fill="#000"/>
<circle cx="292.00" cy="453.21" r="2.40" fill="#000"/>
<circle cx="321.10" cy="460.47" r="2.40" fill="#000"/>
<polyline points="232.90,425.83 262.60,449.48 292.00,459.39 321.10,461.45" fill="none" stroke="#000" stroke-width="1.3" stroke-linejoin="round"/>
<polygon points="232.90,423.09 235.30,427.65 230.50,427.65" fill="#000"/>
<polygon points="262.60,446.74 265.00,451.30 260.20,451.30" fill="#000"/>
<polygon points="292.00,456.65 294.40,461.21 289.60,461.21" fill="#000"/>
<polygon points="321.10,458.71 323.50,463.27 318.70,463.27" fill="#000"/>
<polyline points="232.90,465.28 262.60,465.47 292.00,464.00 321.10,464.49" fill="none" stroke="#000" stroke-width="1.05" stroke-linejoin="round"/>
<circle cx="232.90" cy="465.28" r="2.00" fill="#fff" fill-opacity="0.6" stroke="#000" stroke-width="1.1"/>
<circle cx="262.60" cy="465.47" r="2.00" fill="#fff" fill-opacity="0.6" stroke="#000" stroke-width="1.1"/>
<circle cx="292.00" cy="464.00" r="2.00" fill="#fff" fill-opacity="0.6" stroke="#000" stroke-width="1.1"/>
<circle cx="321.10" cy="464.49" r="2.00" fill="#fff" fill-opacity="0.6" stroke="#000" stroke-width="1.1"/>
<line x1="402" y1="396.9" x2="402" y2="475.9" stroke="#000" stroke-width="1.6"/>
<line x1="401.2" y1="475.0" x2="520" y2="475.0" stroke="#000" stroke-width="1.6"/>
<line x1="402" y1="459.5" x2="520" y2="459.5" stroke="#000" stroke-width="1.0"/>
<line x1="397.8" y1="475.0" x2="402" y2="475.0" stroke="#000" stroke-width="1.2"/>
<text x="397.8" y="476.8" font-size="5.1" font-weight="bold" text-anchor="end" fill="#000" >-5</text>
<line x1="397.8" y1="459.5" x2="402" y2="459.5" stroke="#000" stroke-width="1.2"/>
<text x="397.8" y="461.3" font-size="5.1" font-weight="bold" text-anchor="end" fill="#000" >0</text>
<line x1="397.8" y1="444.0" x2="402" y2="444.0" stroke="#000" stroke-width="1.2"/>
<text x="397.8" y="445.8" font-size="5.1" font-weight="bold" text-anchor="end" fill="#000" >5</text>
<line x1="397.8" y1="428.5" x2="402" y2="428.5" stroke="#000" stroke-width="1.2"/>
<text x="397.8" y="430.3" font-size="5.1" font-weight="bold" text-anchor="end" fill="#000" >10</text>
<line x1="397.8" y1="413.0" x2="402" y2="413.0" stroke="#000" stroke-width="1.2"/>
<text x="397.8" y="414.8" font-size="5.1" font-weight="bold" text-anchor="end" fill="#000" >15</text>
<line x1="397.8" y1="397.5" x2="402" y2="397.5" stroke="#000" stroke-width="1.2"/>
<text x="397.8" y="399.3" font-size="5.1" font-weight="bold" text-anchor="end" fill="#000" >20</text>
<line x1="416.6" y1="475.0" x2="416.6" y2="477.5" stroke="#000" stroke-width="1.2"/>
<text x="416.6" y="483.2" font-size="6.2" text-anchor="middle" stroke="#000" stroke-width="0.22">100:1</text>
<line x1="445.8" y1="475.0" x2="445.8" y2="477.5" stroke="#000" stroke-width="1.2"/>
<text x="445.8" y="483.2" font-size="6.2" text-anchor="middle" stroke="#000" stroke-width="0.22">20:1</text>
<line x1="475" y1="475.0" x2="475" y2="477.5" stroke="#000" stroke-width="1.2"/>
<text x="475" y="483.2" font-size="6.2" text-anchor="middle" stroke="#000" stroke-width="0.22">4:1</text>
<line x1="504.5" y1="475.0" x2="504.5" y2="477.5" stroke="#000" stroke-width="1.2"/>
<text x="504.5" y="483.2" font-size="6.2" text-anchor="middle" stroke="#000" stroke-width="0.22">0.8:1</text>
<text x="457.9" y="398.0" font-size="9.1" font-weight="bold" text-anchor="middle" fill="#000" >UPN-04</text>
<text x="462.3" y="493.2" font-size="8.2" font-weight="bold" text-anchor="middle" fill="#000" >E:T Ratio</text>
<text transform="translate(390.5,436.65) rotate(-90)" font-size="8.2" font-weight="bold" text-anchor="middle">Lysis (%)</text>
<polyline points="416.60,441.52 445.80,451.13 475.00,451.44 504.50,454.85" fill="none" stroke="#000" stroke-width="1.3" stroke-linejoin="round"/>
<rect x="414.30" y="439.22" width="4.60" height="4.60" fill="#000"/>
<rect x="443.50" y="448.83" width="4.60" height="4.60" fill="#000"/>
<rect x="472.70" y="449.14" width="4.60" height="4.60" fill="#000"/>
<rect x="502.20" y="452.55" width="4.60" height="4.60" fill="#000"/>
<line x1="504.5" y1="448.03" x2="504.5" y2="440.28" stroke="#000" stroke-width="1.35"/>
<line x1="501.7" y1="440.28" x2="507.3" y2="440.28" stroke="#000" stroke-width="1.35"/>
<polyline points="416.60,443.69 445.80,453.30 475.00,459.81 504.50,448.03" fill="none" stroke="#000" stroke-width="1.3" stroke-linejoin="round"/>
<circle cx="416.60" cy="443.69" r="2.40" fill="#000"/>
<circle cx="445.80" cy="453.30" r="2.40" fill="#000"/>
<circle cx="475.00" cy="459.81" r="2.40" fill="#000"/>
<circle cx="504.50" cy="448.03" r="2.40" fill="#000"/>
<polyline points="416.60,445.86 445.80,455.47 475.00,457.02 504.50,456.71" fill="none" stroke="#000" stroke-width="1.3" stroke-linejoin="round"/>
<polygon points="416.60,443.12 419.00,447.68 414.20,447.68" fill="#000"/>
<polygon points="445.80,452.73 448.20,457.29 443.40,457.29" fill="#000"/>
<polygon points="475.00,454.28 477.40,458.84 472.60,458.84" fill="#000"/>
<polygon points="504.50,453.97 506.90,458.53 502.10,458.53" fill="#000"/>
<polyline points="416.60,461.67 445.80,462.91 475.00,460.12 504.50,461.05" fill="none" stroke="#000" stroke-width="1.05" stroke-linejoin="round"/>
<circle cx="416.60" cy="461.67" r="2.00" fill="#fff" fill-opacity="0.6" stroke="#000" stroke-width="1.1"/>
<circle cx="445.80" cy="462.91" r="2.00" fill="#fff" fill-opacity="0.6" stroke="#000" stroke-width="1.1"/>
<circle cx="475.00" cy="460.12" r="2.00" fill="#fff" fill-opacity="0.6" stroke="#000" stroke-width="1.1"/>
<circle cx="504.50" cy="461.05" r="2.00" fill="#fff" fill-opacity="0.6" stroke="#000" stroke-width="1.1"/>
</svg>
</body></html>
